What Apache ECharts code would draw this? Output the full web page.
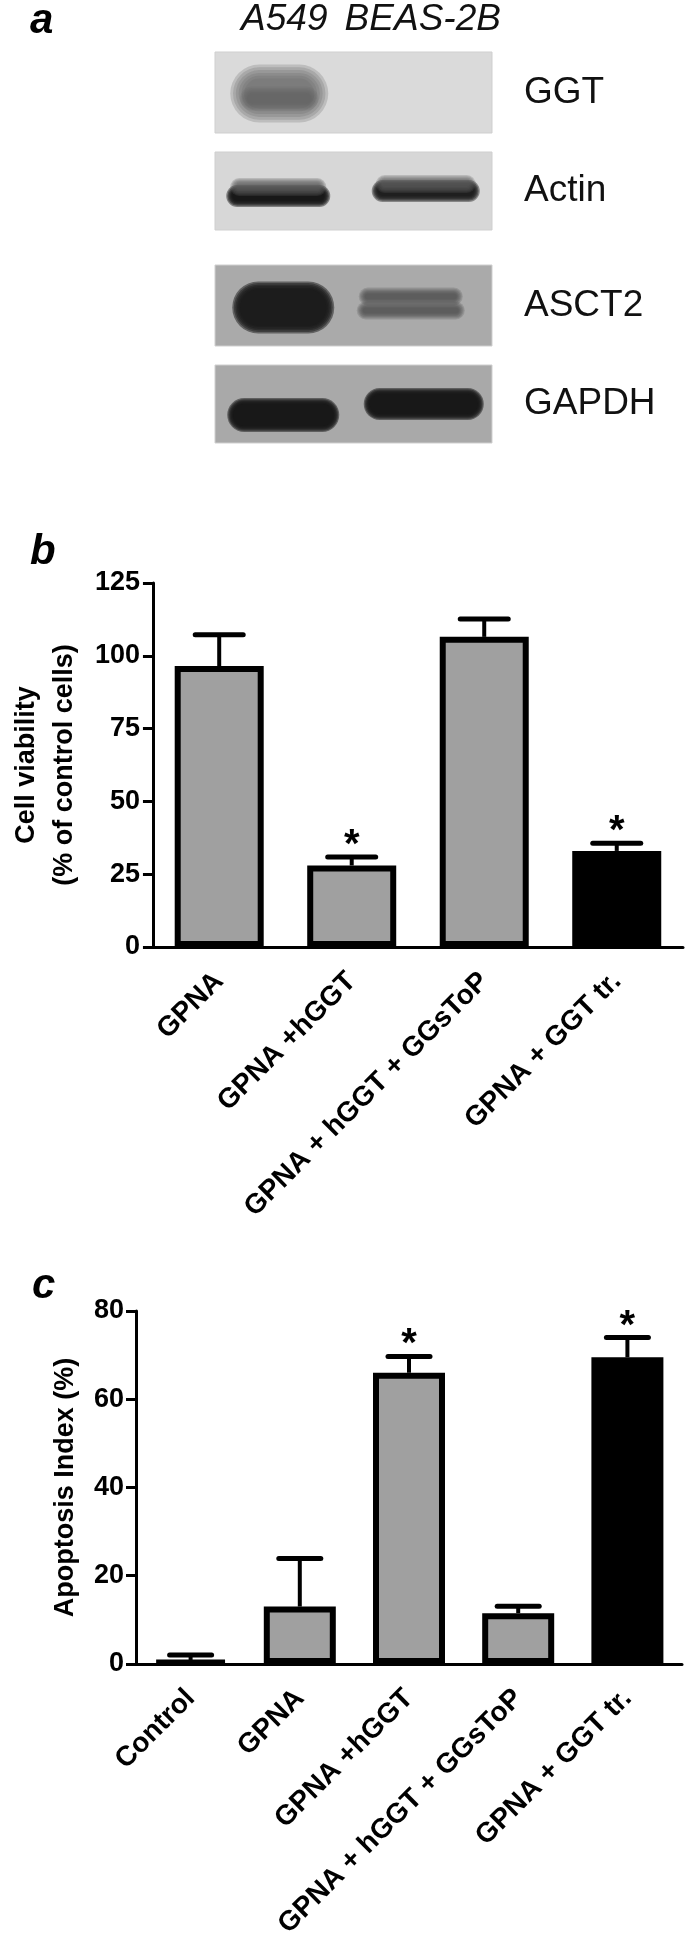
<!DOCTYPE html>
<html>
<head>
<meta charset="utf-8">
<style>
  html, body { margin: 0; padding: 0; background: #fff; }
  #chart { width: 685px; height: 1941px; }
</style>
</head>
<body>
<div id="chart"></div>
<script src="https://cdn.jsdelivr.net/npm/echarts@6/dist/echarts.min.js"></script>
<script>
  const chart = echarts.init(document.getElementById('chart'));
  const FONT = '"Liberation Sans", Arial, sans-serif';

  // panel a: western blot, band intensity per lane
  const lanes = ['A549', 'BEAS-2B'];
  const proteins = ['GGT', 'Actin', 'ASCT2', 'GAPDH'];
  const ggtBand = [0.85, 0];
  const actinBand = [1, 0.95];
  const asct2Band = [1, 0.7];
  const gapdhBand = [1, 1];

  // panel b: cell viability
  const bCategories = ['GPNA', 'GPNA +hGGT', 'GPNA + hGGT + GGsToP', 'GPNA + GGT tr.'];
  const bValues = [96.5, 28, 106.5, 33];
  const bErr = [10.7, 2.9, 6.1, 2.6];
  const bSig = [0, 1, 0, 1];
  const bTicks = [0, 25, 50, 75, 100, 125];

  // panel c: apoptosis index
  const cCategories = ['Control', 'GPNA', 'GPNA +hGGT', 'GPNA + hGGT + GGsToP', 'GPNA + GGT tr.'];
  const cValues = [0.7, 13, 66, 11.5, 69.5];
  const cErr = [1.3, 10.9, 3.7, 1.6, 4.5];
  const cSig = [0, 0, 1, 0, 1];
  const cTicks = [0, 20, 40, 60, 80];

  // look of the blot boxes and bands (style only)
  const boxes = [
    { top: 52, height: 81, bg: '#dadada' },
    { top: 152, height: 78, bg: '#d7d7d7' },
    { top: 265, height: 81, bg: '#aaaaaa' },
    { top: 365, height: 78, bg: '#a9a9a9' }
  ];
  const bandLook = [
    [[{ dx: -5, dy: 1, w: 70, h: 30, blur: 28, rgb: '105,105,105', a: 0.3 },
      { dx: -5, dy: 6, w: 64, h: 10, blur: 14, rgb: '95,95,95', a: 0.2 }], []],
    [[{ dx: -6, dy: 5, w: 92, h: 10, blur: 12, rgb: '20,20,20', a: 0.45 },
      { dx: -6, dy: -4, w: 84, h: 6, blur: 12, rgb: '90,90,90', a: 0.25 }],
     [{ dx: 3, dy: 0, w: 96, h: 10, blur: 12, rgb: '25,25,25', a: 0.45 },
      { dx: 3, dy: -7, w: 88, h: 6, blur: 12, rgb: '90,90,90', a: 0.25 }]],
    [[{ dx: -1, dy: 2, w: 86, h: 36, blur: 16, rgb: '25,25,25', a: 0.5 }],
     [{ dx: -12, dy: -9, w: 92, h: 6, blur: 12, rgb: '70,70,70', a: 0.3 },
      { dx: -12, dy: 5, w: 96, h: 6, blur: 12, rgb: '70,70,70', a: 0.3 }]],
    [[{ dx: -1, dy: 11, w: 100, h: 22, blur: 12, rgb: '22,22,22', a: 0.5 }],
     [{ dx: 1, dy: 0, w: 108, h: 20, blur: 12, rgb: '22,22,22', a: 0.5 }]]
  ];
  const bandRows = [ggtBand, actinBand, asct2Band, gapdhBand];
  const LAYERS = 6;

  // soft band: stack of growing translucent rounded rects
  function blotRender(row) {
    return function (params, api) {
      const lane = api.value(0);
      const v = api.value(2);
      const c = api.coord([lane, 0]);
      const children = [];
      if (v > 0) {
        bandLook[row][lane].forEach(b => {
          for (let k = LAYERS - 1; k >= 0; k--) {
            const g = b.blur * k / (LAYERS - 1);
            const w = b.w + g, h = b.h + g;
            children.push({
              type: 'rect',
              shape: { x: c[0] + b.dx - w / 2, y: c[1] + b.dy - h / 2, width: w, height: h, r: h / 2 },
              style: { fill: 'rgba(' + b.rgb + ',' + (b.a * v) + ')' }
            });
          }
        });
      }
      return { type: 'group', children: children };
    };
  }

  function errRender(capW) {
    return function (params, api) {
      const i = api.value(0);
      const v = api.value(1);
      const e = api.value(2);
      const s = api.value(3);
      const base = api.coord([i, v]);
      const top = api.coord([i, v + e]);
      const children = [
        { type: 'line', shape: { x1: base[0], y1: base[1], x2: top[0], y2: top[1] }, style: { stroke: '#000', lineWidth: 4 } },
        { type: 'line', shape: { x1: top[0] - capW / 2, y1: top[1], x2: top[0] + capW / 2, y2: top[1] }, style: { stroke: '#000', lineWidth: 5, lineCap: 'round' } }
      ];
      if (s) {
        children.push({
          type: 'text',
          style: { text: '*', x: top[0], y: top[1] - 11, align: 'center', verticalAlign: 'middle', font: 'bold 40px ' + FONT, fill: '#000' }
        });
      }
      return { type: 'group', children: children };
    };
  }

  const blotGrids = boxes.map(b => ({
    left: 215, width: 277, top: b.top, height: b.height,
    show: true, backgroundColor: b.bg, borderColor: '#cfcfcf', borderWidth: 1
  }));

  const blotX = boxes.map((b, i) => ({
    type: 'category', gridIndex: i, data: lanes, position: 'top',
    axisLine: { show: false }, axisTick: { show: false },
    axisLabel: { show: i === 0, interval: 0, hideOverlap: false, fontStyle: 'italic', fontSize: 37, color: '#111', fontFamily: FONT, margin: 14 }
  }));
  const blotY = boxes.map((b, i) => ({
    type: 'category', gridIndex: i, data: [proteins[i]], position: 'right',
    axisLine: { show: false }, axisTick: { show: false },
    axisLabel: { fontSize: 37, color: '#111', fontFamily: FONT, margin: 32 }
  }));
  const blotSeries = bandRows.map((row, i) => ({
    type: 'custom', xAxisIndex: i, yAxisIndex: i,
    renderItem: blotRender(i),
    data: row.map((v, lane) => [lane, 0, v]),
    silent: true
  }));

  const axisLine = { show: true, lineStyle: { color: '#000', width: 3 } };
  const tickLabel = { fontSize: 27, fontWeight: 'bold', color: '#000', fontFamily: FONT };
  const catLabel = {
    rotate: 45, interval: 0, fontSize: 28, fontWeight: 'bold', color: '#000', fontFamily: FONT,
    margin: 30, padding: [42, 0, 0, 0]
  };

  const option = {
    animation: false,
    backgroundColor: '#fff',
    graphic: [
      { type: 'text', style: { text: 'a', x: 30, y: 42, verticalAlign: 'bottom', font: 'italic bold 42px ' + FONT, fill: '#000' } },
      { type: 'text', style: { text: 'b', x: 30, y: 573, verticalAlign: 'bottom', font: 'italic bold 42px ' + FONT, fill: '#000' } },
      { type: 'text', style: { text: 'c', x: 32, y: 1307, verticalAlign: 'bottom', font: 'italic bold 42px ' + FONT, fill: '#000' } }
    ],
    grid: blotGrids.concat([
      { left: 135, top: 583, width: 548, height: 364 },
      { left: 136, top: 1311, width: 546, height: 362 }
    ]),
    xAxis: blotX.concat([
      {
        type: 'category', gridIndex: 4, data: bCategories,
        axisLine: axisLine,
        axisTick: { alignWithLabel: true, length: 14, lineStyle: { color: '#000', width: 3 } },
        axisLabel: catLabel
      },
      {
        type: 'category', gridIndex: 5, data: cCategories,
        axisLine: axisLine,
        axisTick: { alignWithLabel: true, length: 14, lineStyle: { color: '#000', width: 3 } },
        axisLabel: catLabel
      }
    ]),
    yAxis: blotY.concat([
      {
        type: 'value', gridIndex: 4, min: bTicks[0], max: bTicks[bTicks.length - 1], interval: 25,
        axisLine: axisLine,
        axisTick: { show: true, length: 10, lineStyle: { color: '#000', width: 3 } },
        splitLine: { show: false },
        axisLabel: Object.assign({ margin: 13 }, tickLabel),
        name: 'Cell viability\n(% of control cells)',
        nameLocation: 'middle', nameRotate: 90, nameGap: 63,
        nameTextStyle: { fontSize: 27, fontWeight: 'bold', color: '#000', fontFamily: FONT, lineHeight: 38 }
      },
      {
        type: 'value', gridIndex: 5, min: cTicks[0], max: cTicks[cTicks.length - 1], interval: 20,
        axisLine: axisLine,
        axisTick: { show: true, length: 10, lineStyle: { color: '#000', width: 3 } },
        splitLine: { show: false },
        axisLabel: Object.assign({ margin: 12 }, tickLabel),
        name: 'Apoptosis Index (%)',
        nameLocation: 'middle', nameRotate: 90, nameGap: 55,
        nameTextStyle: { fontSize: 27, fontWeight: 'bold', color: '#000', fontFamily: FONT, lineHeight: 30 }
      }
    ]),
    series: blotSeries.concat([
      {
        type: 'bar', xAxisIndex: 4, yAxisIndex: 4, barWidth: 89,
        data: bValues.map((v, i) => ({
          value: v,
          itemStyle: { color: i === bValues.length - 1 ? '#000' : '#a0a0a0', borderColor: '#000', borderWidth: 6 }
        }))
      },
      {
        type: 'custom', xAxisIndex: 4, yAxisIndex: 4, z: 3,
        renderItem: errRender(48),
        data: bValues.map((v, i) => [i, v, bErr[i], bSig[i]])
      },
      {
        type: 'bar', xAxisIndex: 5, yAxisIndex: 5, barWidth: 72,
        data: cValues.map((v, i) => ({
          value: v,
          itemStyle: { color: i === cValues.length - 1 ? '#000' : '#a0a0a0', borderColor: '#000', borderWidth: 6 }
        }))
      },
      {
        type: 'custom', xAxisIndex: 5, yAxisIndex: 5, z: 3,
        renderItem: errRender(42),
        data: cValues.map((v, i) => [i, v, cErr[i], cSig[i]])
      }
    ])
  };

  chart.setOption(option);
</script>
</body>
</html>
